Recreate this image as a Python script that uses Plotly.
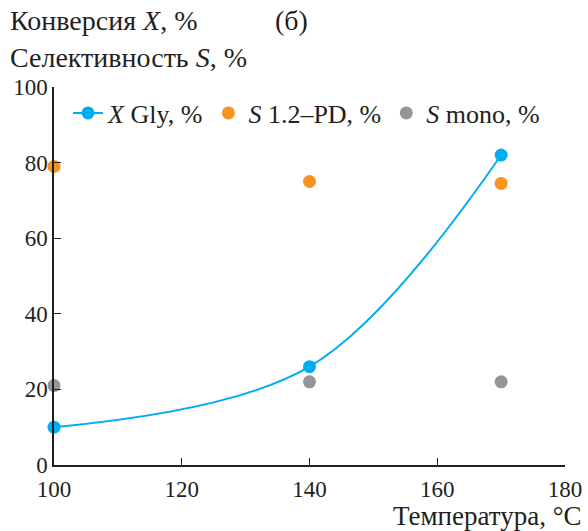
import plotly.graph_objects as go

temps = [100, 140, 170]
x_gly = [10, 26, 82]
s_pd = [79, 75, 74.5]
s_mono = [21, 22, 22]

x_ticks = [100, 120, 140, 160, 180]
y_ticks = [0, 20, 40, 60, 80, 100]

BLUE = "#00AEEF"
ORANGE = "#F7941D"
GRAY = "#939598"
INK = "#231F20"
FONT = "Liberation Serif"
TS = 23
TT = 28
LS = 26

fig = go.Figure()
fig.add_trace(go.Scatter(x=temps, y=x_gly, mode="lines+markers", name="<i>X</i> Gly, %",
                         line=dict(color=BLUE, width=2, shape="spline", smoothing=1),
                         marker=dict(color=BLUE, size=13), cliponaxis=False))
fig.add_trace(go.Scatter(x=temps, y=s_pd, mode="markers", name="<i>S</i> 1.2–PD, %",
                         marker=dict(color=ORANGE, size=13), cliponaxis=False))
fig.add_trace(go.Scatter(x=temps, y=s_mono, mode="markers", name="<i>S</i> mono, %",
                         marker=dict(color=GRAY, size=13), cliponaxis=False))

L, R, T, B = 54, 23, 87, 66
W, H = 588, 531
pw, ph = W - L - R, H - T - B

def px(x):
    return (x - L) / pw

def py(y):
    return (H - B - y) / ph

fig.update_layout(
    width=W, height=H,
    margin=dict(l=L, r=R, t=T, b=B, autoexpand=False),
    plot_bgcolor="white", paper_bgcolor="white",
    font=dict(family=FONT, size=TS, color=INK),
    showlegend=True,
    legend=dict(orientation="h", x=px(68), y=py(113), xanchor="left", yanchor="middle",
                bgcolor="rgba(0,0,0,0)", font=dict(size=LS, family=FONT, color=INK),
                itemsizing="trace", tracegroupgap=0, itemwidth=30),
    xaxis=dict(range=[100, 180], tickvals=x_ticks, ticks="inside", ticklen=7,
               tickcolor=INK, showline=True, linecolor=INK, linewidth=1.5, automargin=False,
               showgrid=False, zeroline=False, ticklabelstandoff=3,
               tickfont=dict(size=TS, family=FONT, color=INK)),
    yaxis=dict(range=[0, 100], tickvals=y_ticks, ticks="inside", ticklen=7,
               tickcolor=INK, showline=True, linecolor=INK, linewidth=1.5, automargin=False,
               showgrid=False, zeroline=False, ticklabelstandoff=0,
               tickfont=dict(size=TS, family=FONT, color=INK)),
    annotations=[
        dict(text="Конверсия <i>X</i>, %", x=px(8), y=py(20), xref="paper", yref="paper",
             xanchor="left", yanchor="middle", showarrow=False, font=dict(size=TT)),
        dict(text="(б)", x=px(273), y=py(20), xref="paper", yref="paper",
             xanchor="left", yanchor="middle", showarrow=False, font=dict(size=TT)),
        dict(text="Селективность <i>S</i>, %", x=px(8), y=py(58), xref="paper", yref="paper",
             xanchor="left", yanchor="middle", showarrow=False, font=dict(size=TT)),
        dict(text="Температура, °C", x=px(584), y=py(516), xref="paper", yref="paper",
             xanchor="right", yanchor="middle", showarrow=False, font=dict(size=27)),
    ],
)

fig.write_html("out.html", config={"displayModeBar": False},
               post_script="document.body.style.margin='0px';")
